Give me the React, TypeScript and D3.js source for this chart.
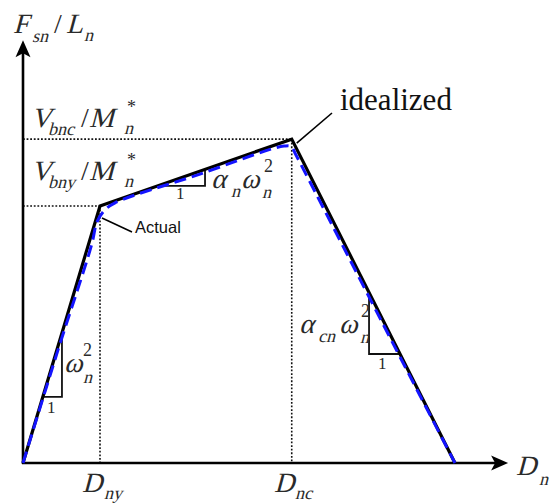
import React from "react";
import * as d3 from "d3";

const W = 553;
const H = 504;

// Idealized backbone: origin, yield (Dny, Vbny), capping (Dnc, Vbnc), zero strength
const idealD = [0, 1, 3.49, 5.61];
const idealF = [0, 1, 1.26, 0];

// Actual (smooth) response
const actualD = [0, 0.455, 0.89, 0.961, 1.052, 1.195, 2.299, 3.208, 3.39, 3.48, 3.545, 3.714, 4.649, 5.61];
const actualF = [0, 0.44, 0.848, 0.938, 0.981, 1.012, 1.124, 1.22, 1.233, 1.232, 1.198, 1.101, 0.556, 0];

// Slope triangles: right-angle corner (D, F) and the segment they sit on
const triD = [0.506, 2.364, 4.494];
const triF = [0.257, 1.078, 0.424];
const triSeg = [0, 1, 2];

// Axis extents
const dMax = 6.3;
const fMax = 1.645;

const SERIF = "Liberation Serif, Times New Roman, serif";
const SANS = "Liberation Sans, Arial, sans-serif";
const SUB = 18;
const INK = "#2a2a2a";

type Piece = { t: string; x: number; y: number; s?: number; it?: boolean };

// Math-style text: italic pieces are slanted serif glyphs
function MathText({ pieces }: { pieces: Piece[] }) {
  return (
    <g fill={INK}>
      {pieces.map((p, i) => (
        <text
          key={i}
          fontFamily={SERIF}
          transform={`translate(${p.x},${p.y})${p.it === false ? "" : " skewX(-15)"}`}
          fontSize={p.s ?? 28}
        >
          {p.t}
        </text>
      ))}
    </g>
  );
}

export default function App() {
  const x = d3.scaleLinear().domain([0, dMax]).range([23, 508.1]);
  const y = d3.scaleLinear().domain([0, fMax]).range([463, 40.2]);

  const idealPts: [number, number][] = idealD.map((d, i) => [x(d), y(idealF[i])]);
  const actualPts: [number, number][] = actualD.map((d, i) => [x(d), y(actualF[i])]);

  const idealPath = d3.line()(idealPts) ?? "";
  const actualPath = d3.line().curve(d3.curveCatmullRom.alpha(0.5))(actualPts) ?? "";

  // value on segment k of the idealized backbone
  const fOn = (k: number, d: number) =>
    idealF[k] + ((idealF[k + 1] - idealF[k]) * (d - idealD[k])) / (idealD[k + 1] - idealD[k]);
  const dOn = (k: number, f: number) =>
    idealD[k] + ((idealD[k + 1] - idealD[k]) * (f - idealF[k])) / (idealF[k + 1] - idealF[k]);

  const triPaths = triD.map((dc, i) => {
    const fc = triF[i];
    const k = triSeg[i];
    return d3.line()([
      [x(dOn(k, fc)), y(fc)],
      [x(dc), y(fc)],
      [x(dc), y(fOn(k, dc))],
    ]) ?? "";
  });

  const x0 = x(0);
  const y0 = y(0);
  const xTip = x(dMax);
  const yTip = y(fMax);

  const guides = [1, 2].map((i) => ({ d: idealD[i], f: idealF[i] }));

  return (
    <svg width={W} height={H} style={{ position: "fixed", left: 0, top: 0, background: "#fff" }}>
      {/* dotted guides to yield and capping points */}
      <g stroke="#111" strokeWidth={1.6} strokeDasharray="1.8 1.8" fill="none">
        {guides.map((g, i) => (
          <g key={i}>
            <line x1={x0} x2={x(g.d)} y1={y(g.f)} y2={y(g.f)} />
            <line x1={x(g.d)} x2={x(g.d)} y1={y(g.f)} y2={y0} />
          </g>
        ))}
      </g>

      {/* axes */}
      <g stroke="#000" strokeWidth={2.6}>
        <line x1={x0} x2={x0} y1={y0 + 1} y2={yTip + 12} />
        <line x1={x0 - 1} x2={xTip - 12} y1={y0} y2={y0} />
      </g>
      <path d={`M${x0},${yTip} L${x0 - 7.5},${yTip + 17} L${x0},${yTip + 13} L${x0 + 7.5},${yTip + 17} Z`} fill="#000" />
      <path d={`M${xTip},${y0} L${xTip - 17},${y0 - 7.5} L${xTip - 13},${y0} L${xTip - 17},${y0 + 7.5} Z`} fill="#000" />

      {/* slope triangles */}
      <g stroke="#111" strokeWidth={1.8} fill="none">
        {triPaths.map((p, i) => (
          <path key={i} d={p} />
        ))}
      </g>

      {/* idealized backbone */}
      <path d={idealPath} fill="none" stroke="#000" strokeWidth={3.2} strokeLinejoin="miter" />
      {/* actual response */}
      <path d={actualPath} fill="none" stroke="#1414ff" strokeWidth={3} strokeDasharray="12 6" />

      {/* leader lines */}
      <g stroke="#000" strokeWidth={1.6}>
        <line x1={332} y1={113} x2={x(idealD[2]) + 5} y2={y(idealF[2]) + 4} />
        <line x1={x(idealD[1]) + 2} y1={y(idealF[1]) + 12} x2={132} y2={232} />
      </g>

      <text x={340} y={110} fontFamily={SERIF} fontSize={31} fill="#111">idealized</text>
      <text x={135} y={233} fontFamily={SANS} fontSize={16.5} fill="#111">Actual</text>

      {/* slope "1" labels */}
      <g fontFamily={SERIF} fontSize={17} fill={INK}>
        <text x={47} y={413}>1</text>
        <text x={176} y={199}>1</text>
        <text x={378} y={369}>1</text>
      </g>

      {/* axis titles */}
      <MathText
        pieces={[
          { t: "F", x: 13, y: 33 },
          { t: "sn", x: 32, y: 42, s: SUB },
          { t: "/", x: 54, y: 33, it: false },
          { t: "L", x: 66, y: 33 },
          { t: "n", x: 84, y: 41, s: SUB },
          { t: "D", x: 516, y: 475 },
          { t: "n", x: 539, y: 485, s: SUB },
          { t: "D", x: 82, y: 492 },
          { t: "ny", x: 104, y: 499, s: SUB },
          { t: "D", x: 274, y: 492 },
          { t: "nc", x: 295, y: 499, s: SUB },
        ]}
      />

      {/* strength labels */}
      <MathText
        pieces={[
          { t: "V", x: 31, y: 127 },
          { t: "bnc", x: 48, y: 135, s: SUB },
          { t: "/", x: 81, y: 127, it: false },
          { t: "M", x: 89, y: 127 },
          { t: "n", x: 124, y: 134, s: SUB },
          { t: "*", x: 127, y: 113, s: SUB, it: false },
          { t: "V", x: 31, y: 180 },
          { t: "bny", x: 48, y: 188, s: SUB },
          { t: "/", x: 81, y: 180, it: false },
          { t: "M", x: 89, y: 180 },
          { t: "n", x: 124, y: 187, s: SUB },
          { t: "*", x: 127, y: 166, s: SUB, it: false },
        ]}
      />

      {/* slope labels */}
      <MathText
        pieces={[
          { t: "ω", x: 64, y: 372 },
          { t: "2", x: 83, y: 356, s: SUB, it: false },
          { t: "n", x: 83, y: 383, s: SUB },
          { t: "α", x: 211, y: 188 },
          { t: "n", x: 231, y: 197, s: SUB },
          { t: "ω", x: 241, y: 188 },
          { t: "2", x: 264, y: 172, s: SUB, it: false },
          { t: "n", x: 262, y: 198, s: SUB },
          { t: "α", x: 299, y: 333 },
          { t: "cn", x: 318, y: 342, s: SUB },
          { t: "ω", x: 339, y: 333 },
          { t: "2", x: 361, y: 317, s: SUB, it: false },
          { t: "n", x: 360, y: 343, s: SUB },
        ]}
      />
    </svg>
  );
}
